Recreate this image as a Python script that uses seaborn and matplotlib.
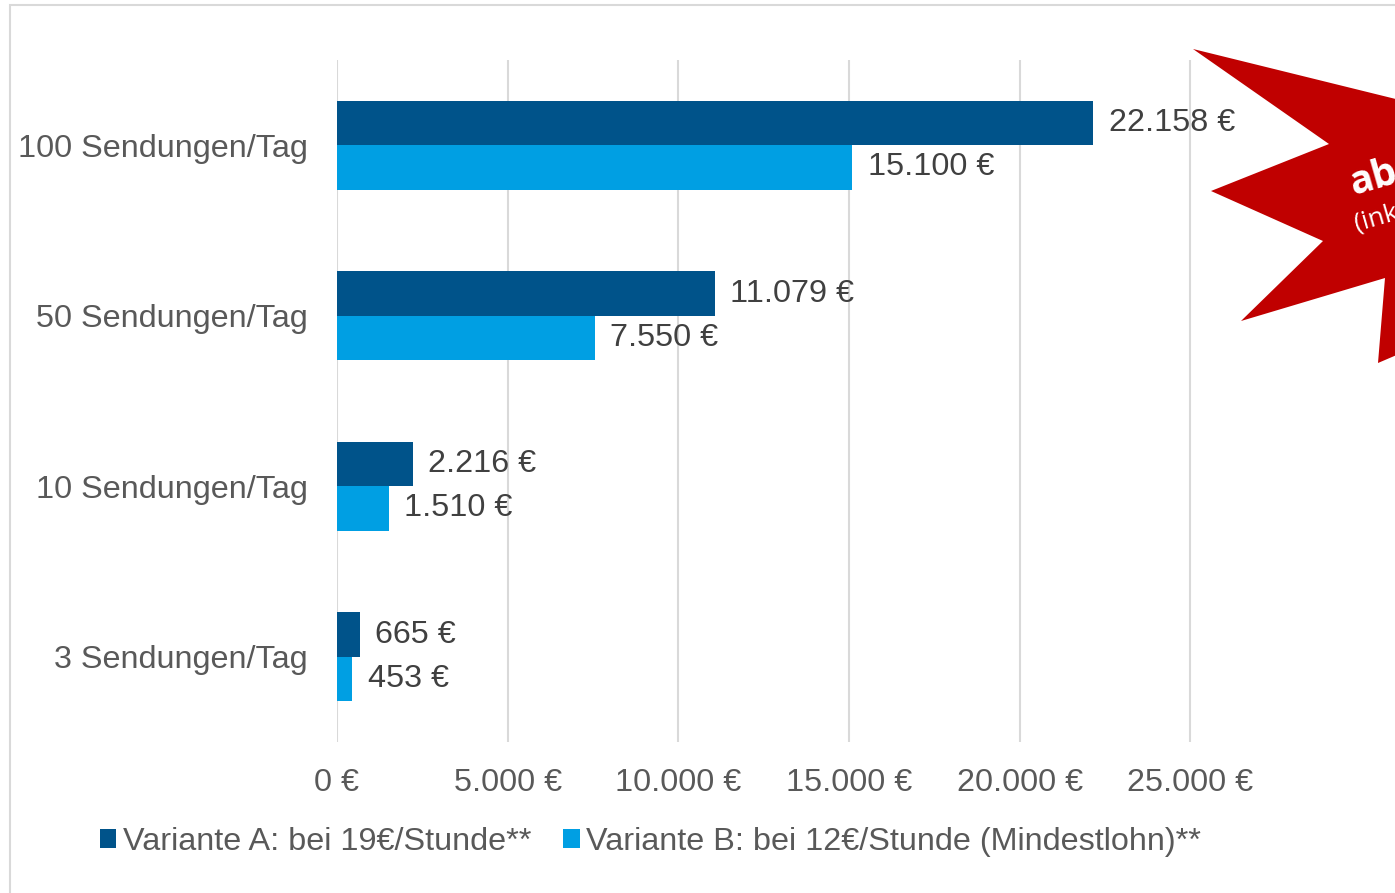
import matplotlib
matplotlib.use("Agg")
import matplotlib.pyplot as plt
import seaborn as sns
import pandas as pd
from matplotlib.patches import Polygon, Rectangle

categories = ["100 Sendungen/Tag", "50 Sendungen/Tag", "10 Sendungen/Tag", "3 Sendungen/Tag"]
series_names = ["Variante A: bei 19€/Stunde**", "Variante B: bei 12€/Stunde (Mindestlohn)**"]
values_a = [22158, 11079, 2216, 665]
values_b = [15100, 7550, 1510, 453]
x_ticks = [0, 5000, 10000, 15000, 20000, 25000]

def eur(v):
    return f"{v:,.0f}".replace(",", ".") + " €"

df = pd.DataFrame({
    "cat": categories * 2,
    "val": values_a + values_b,
    "series": [series_names[0]] * 4 + [series_names[1]] * 4,
})

sns.set_theme(style="white")
plt.rcParams["font.family"] = ["Liberation Sans", "DejaVu Sans"]

FS = 23.3
W, H = 1395, 893
fig = plt.figure(figsize=(W / 100, H / 100), dpi=100)
ax = fig.add_axes([337 / W, 1 - 742 / H, (1361 - 337) / W, (742 - 60) / H])

sns.barplot(data=df, y="cat", x="val", hue="series", order=categories,
            hue_order=series_names, palette=["#00538A", "#009FE3"],
            orient="h", width=0.52, saturation=1, linewidth=0, ax=ax, legend=True)

ax.set_xlim(0, 30000)
ax.set_ylim(3.5, -0.5)
ax.set_xticks(x_ticks)
ax.set_xticklabels([eur(v) for v in x_ticks])
ax.set_xlabel("")
ax.set_ylabel("")
for s in ax.spines.values():
    s.set_visible(False)
for v in x_ticks:
    ax.axvline(v, color="#D9D9D9", lw=1.5, zorder=0)
ax.tick_params(axis="y", length=0, pad=21, labelsize=FS, labelcolor="#595959")
ax.tick_params(axis="x", length=0, pad=19, labelsize=FS, labelcolor="#595959")

for cont, vals in zip(ax.containers, [values_a, values_b]):
    ax.bar_label(cont, labels=[eur(v) for v in vals], padding=11,
                 fontsize=FS, color="#404040")

handles, labels = ax.get_legend_handles_labels()
ax.get_legend().remove()
fig.legend(handles, labels, loc="center left",
           bbox_to_anchor=(100 / W, 1 - 842 / H), ncol=2, frameon=False,
           fontsize=FS, labelcolor="#595959", handlelength=0.5,
           handleheight=0.5, handletextpad=0.2, columnspacing=1.0,
           borderpad=0, borderaxespad=0)

# outer frame (bottom/right run past the image edges)
fig.patches.append(Rectangle((10 / W, -20 / H), (W + 20 - 10) / W, (H + 20 - 5) / H,
                             transform=fig.transFigure, fill=False,
                             edgecolor="#D9D9D9", lw=1.5, zorder=0))

# red star (cut off at right edge)
pts_px = [(1193, 49), (1420, 105), (1420, 345), (1378, 363), (1385, 278),
          (1241, 321), (1323, 241), (1211, 191), (1329, 144)]
pts = [(x / W, 1 - y / H) for x, y in pts_px]
fig.patches.append(Polygon(pts, closed=True, transform=fig.transFigure,
                           facecolor="#C00000", edgecolor="none", zorder=5))
fig.text(1345 / W, 1 - 178 / H, "ab", transform=fig.transFigure, color="white",
         fontsize=28, fontweight="bold", rotation=16, ha="left", va="center",
         family=["Open Sans", "DejaVu Sans"], zorder=6)
fig.text(1352 / W, 1 - 218 / H, "(ink", transform=fig.transFigure, color="white",
         fontsize=19, rotation=16, ha="left", va="center",
         family=["Open Sans", "DejaVu Sans"], zorder=6)

fig.savefig("out.png", dpi=100, facecolor="white")
